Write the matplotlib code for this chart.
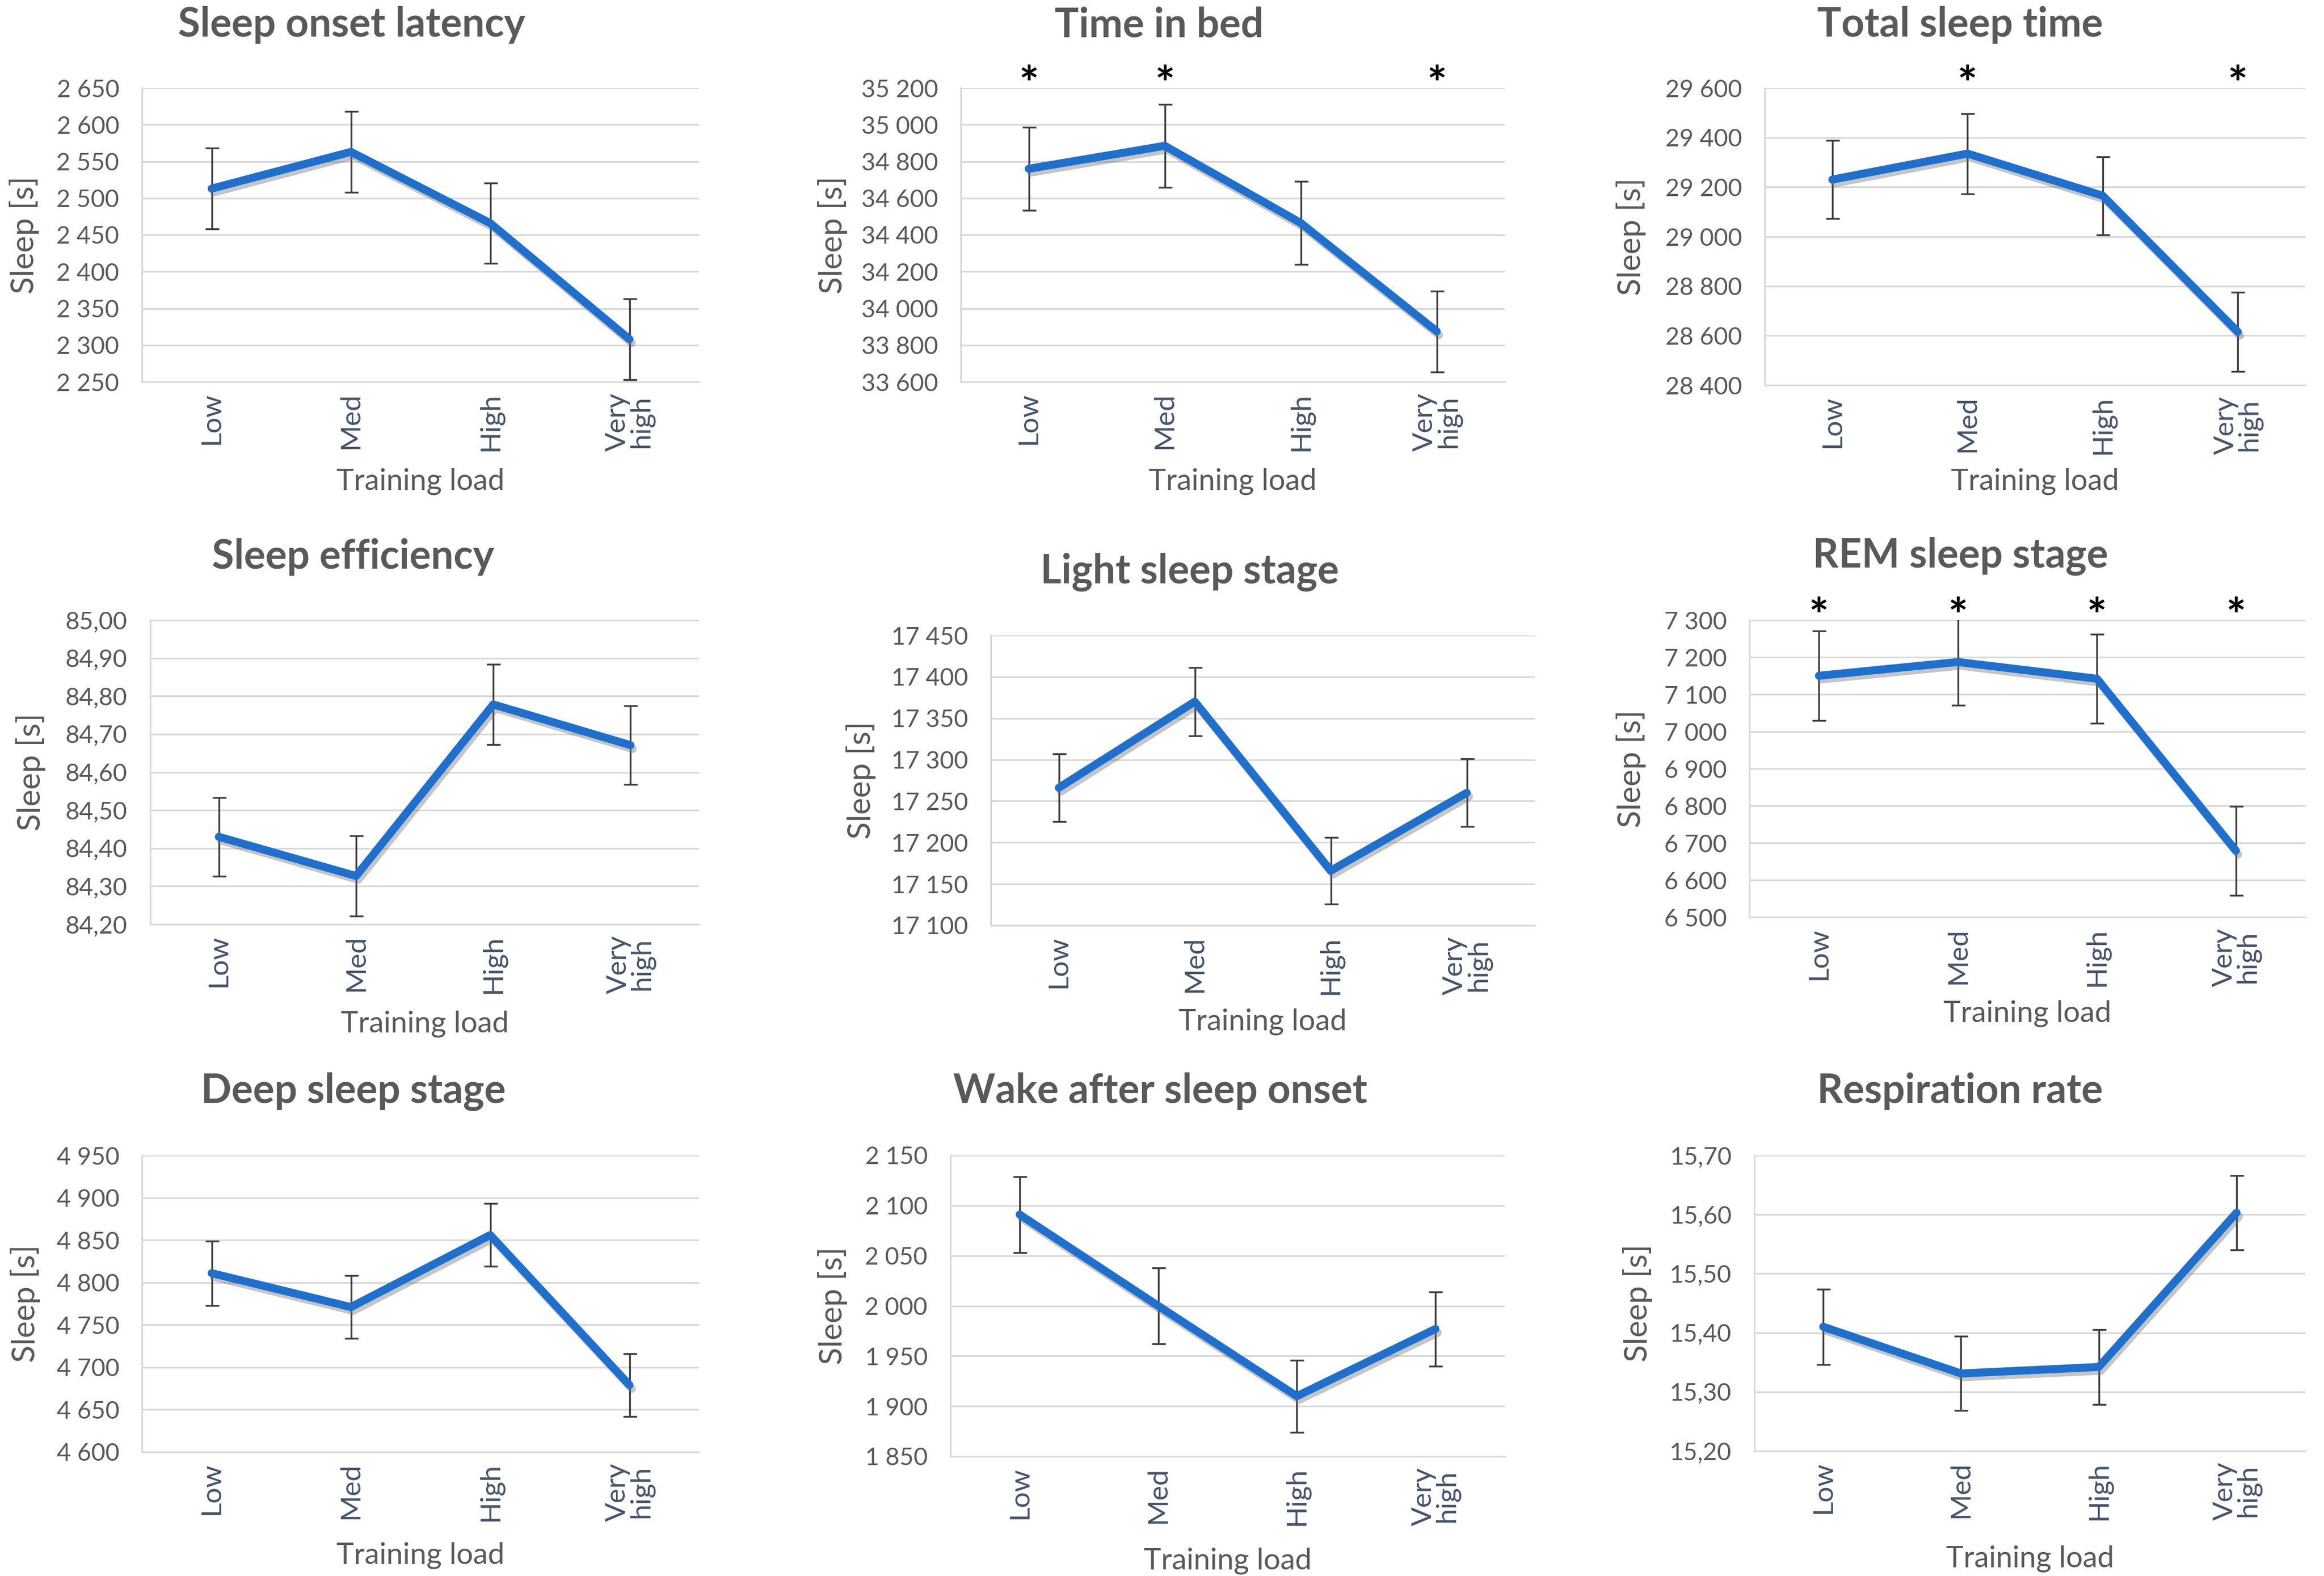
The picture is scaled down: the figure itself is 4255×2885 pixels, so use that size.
import numpy as np
import matplotlib
matplotlib.use("Agg")
import matplotlib.pyplot as plt
import matplotlib.patheffects as pe
from matplotlib.ticker import FuncFormatter

plt.rcParams['font.family'] = ['Lato', 'DejaVu Sans']

categories = ["Low", "Med", "High", "Very\nhigh"]

titles = [
    "Sleep onset latency", "Time in bed", "Total sleep time",
    "Sleep efficiency", "Light sleep stage", "REM sleep stage",
    "Deep sleep stage", "Wake after sleep onset", "Respiration rate",
]

onset_mean = [2513, 2563, 2466, 2308]
onset_err = [55, 55, 55, 55]
bed_mean = [34760, 34885, 34465, 33875]
bed_err = [225, 225, 225, 220]
total_mean = [29230, 29335, 29165, 28615]
total_err = [158, 162, 158, 160]
eff_mean = [84.43, 84.327, 84.778, 84.671]
eff_err = [0.103, 0.106, 0.106, 0.104]
light_mean = [17266, 17370, 17166, 17260]
light_err = [41, 41, 40, 41]
rem_mean = [7150, 7187, 7142, 6679]
rem_err = [120, 117, 120, 120]
deep_mean = [4811, 4771, 4856, 4679]
deep_err = [38, 37, 37, 37]
waso_mean = [2091, 2000, 1910, 1977]
waso_err = [38, 38, 36, 37]
resp_mean = [15.41, 15.331, 15.342, 15.603]
resp_err = [0.064, 0.063, 0.063, 0.063]

means = [onset_mean, bed_mean, total_mean, eff_mean, light_mean,
         rem_mean, deep_mean, waso_mean, resp_mean]
errs = [onset_err, bed_err, total_err, eff_err, light_err,
        rem_err, deep_err, waso_err, resp_err]

y_min = [2250, 33600, 28400, 84.20, 17100, 6500, 4600, 1850, 15.20]
y_max = [2650, 35200, 29600, 85.00, 17450, 7300, 4950, 2150, 15.70]
y_step = [50, 200, 200, 0.10, 50, 100, 50, 50, 0.10]
decimal = [False, False, False, True, False, False, False, False, True]

# significance markers (*) per category
stars = [
    [0, 0, 0, 0], [1, 1, 0, 1], [0, 1, 0, 1],
    [0, 0, 0, 0], [0, 0, 0, 0], [1, 1, 1, 1],
    [0, 0, 0, 0], [0, 0, 0, 0], [0, 0, 0, 0],
]

# layout in pixels: plot box (left, top, right, bottom), title centre,
# y-label x centre, x-label y centre
W, H = 4255, 2885
boxes = [
    (260, 161, 1280, 699), (1759, 161, 2755, 699), (3231, 161, 4221, 705),
    (275, 1135, 1280, 1692), (1814, 1163, 2810, 1694), (3203, 1135, 4221, 1679),
    (260, 2115, 1280, 2658), (1740, 2115, 2755, 2666), (3212, 2115, 4221, 2656),
]
title_pos = [
    (644, 46), (2122, 46), (3589, 46),
    (646, 1020), (2178, 1048), (3589, 1018),
    (647, 1998), (2124, 1998), (3589, 1998),
]
ylabel_x = [45, 1525, 2987, 56, 1577, 2987, 46, 1525, 2999]
xlabel_y = [881, 881, 881, 1874, 1870, 1855, 2847, 2857, 2853]

BLUE = '#1F6FCD'
GREY_TXT = '#595959'
GRID = '#D9D9D9'

fig = plt.figure(figsize=(W / 100, H / 100), dpi=100, facecolor='white')


def fmt_int(v, pos):
    return f"{v:,.0f}".replace(",", " ")


def fmt_dec(v, pos):
    return f"{v:.2f}".replace(".", ",")


x = np.arange(len(categories))
for k in range(9):
    l, t, r, b = boxes[k]
    ax = fig.add_axes([l / W, 1 - b / H, (r - l) / W, (b - t) / H])

    ax.errorbar(x, means[k], yerr=errs[k], fmt='none', ecolor='#404040',
                elinewidth=2.4, capsize=9, capthick=2.4, zorder=3)
    ax.plot(x, means[k], color=BLUE, lw=10.5, solid_capstyle='round',
            solid_joinstyle='round', zorder=4,
            path_effects=[pe.SimpleLineShadow(offset=(3, -5),
                                              shadow_color='#6f6f6f',
                                              alpha=0.4),
                          pe.Normal()])

    ax.set_xlim(-0.5, 3.5)
    ax.set_ylim(y_min[k], y_max[k])
    ticks = np.arange(y_min[k], y_max[k] + y_step[k] / 2, y_step[k])
    ax.set_yticks(ticks)
    ax.yaxis.set_major_formatter(FuncFormatter(fmt_dec if decimal[k] else fmt_int))
    ax.yaxis.grid(True, color=GRID, lw=2.2)
    ax.set_axisbelow(True)
    for s in ['top', 'right']:
        ax.spines[s].set_visible(False)
    for s in ['left', 'bottom']:
        ax.spines[s].set_color(GRID)
        ax.spines[s].set_linewidth(2.2)

    ax.tick_params(axis='both', length=0)
    ax.tick_params(axis='y', labelsize=32, labelcolor=GREY_TXT, pad=30)
    ax.set_xticks(x)
    ax.set_xticklabels(categories, rotation=90, fontsize=37,
                       color='#44546A', linespacing=0.9)
    ax.tick_params(axis='x', pad=14)

    ax.set_ylabel("Sleep [s]", fontsize=42, color=GREY_TXT, va='center')
    ax.yaxis.set_label_coords((ylabel_x[k] - l) / (r - l), 0.5)
    ax.set_xlabel("Training load", fontsize=39, color=GREY_TXT, va='center')
    ax.xaxis.set_label_coords(0.5, -(xlabel_y[k] - b) / (b - t))

    for i, flag in enumerate(stars[k]):
        if flag:
            ax.annotate("*", xy=(i, 1), xycoords=('data', 'axes fraction'),
                        xytext=(0, -16), textcoords='offset points',
                        ha='center', va='baseline', fontsize=62,
                        fontweight='bold', color='black', annotation_clip=False)

    tx, ty = title_pos[k]
    fig.text(tx / W, 1 - ty / H, titles[k], ha='center', va='center',
             fontsize=53, fontweight='bold', color=GREY_TXT)

fig.savefig("out.png", dpi=100, facecolor='white')
